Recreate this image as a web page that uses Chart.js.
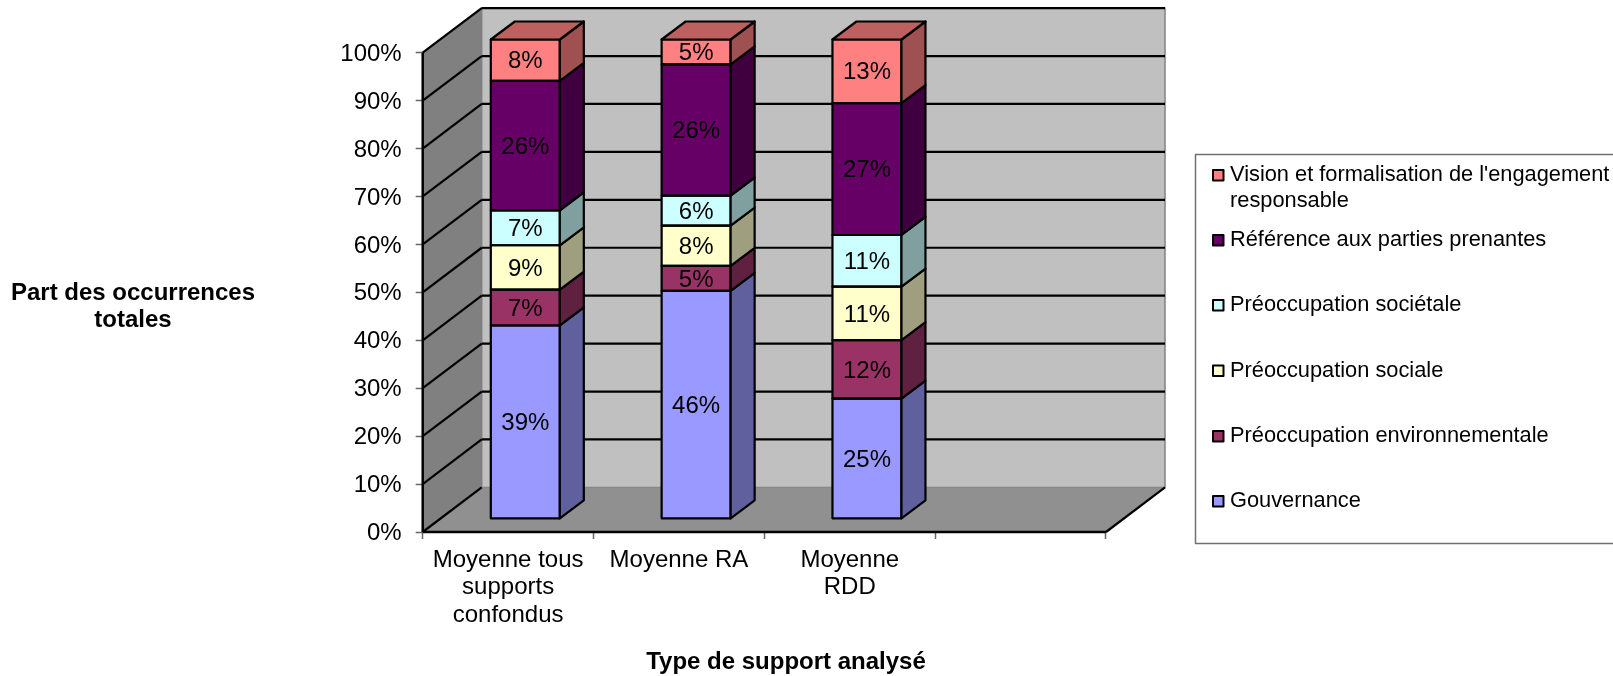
<!DOCTYPE html>
<html lang="fr">
<head>
    <meta charset="UTF-8">
    <title>Type de support analysé</title>
    <script src="https://cdn.jsdelivr.net/npm/chart.js@4/dist/chart.umd.min.js"></script>
    <style>
        html, body { margin: 0; padding: 0; background: #fff; }
        canvas { display: block; }
    </style>
</head>
<body>
<canvas id="myChart" width="1613" height="676"></canvas>
<script>
    // valeurs brutes en %, le total n'atteint pas 100 d'ou la normalisation plus bas
    var categories = [['Moyenne tous', 'supports', 'confondus'], ['Moyenne RA'], ['Moyenne', 'RDD'], ''];
    var gouvernance = [38.8, 45.7, 24.9, null];
    var environnement = [7.2, 5.0, 12.1, null];
    var sociale = [8.9, 8.1, 11.1, null];
    var societale = [7.0, 6.0, 10.7, null];
    var parties = [26.0, 26.3, 27.3, null];
    var vision = [8.3, 5.0, 13.2, null];

    var seriesNames = ['Gouvernance', 'Préoccupation environnementale', 'Préoccupation sociale', 'Préoccupation sociétale', 'Référence aux parties prenantes', "Vision et formalisation de l'engagement responsable"];
    var seriesValues = [gouvernance, environnement, sociale, societale, parties, vision];
    var seriesColors = ['#9999FF', '#993366', '#FFFFCC', '#CCFFFF', '#660066', '#FF8080'];

    // legende : du haut vers le bas, avec les lignes de texte
    var legendRows = [
        {series: 5, lines: ["Vision et formalisation de l'engagement", 'responsable'], y: 175},
        {series: 4, lines: ['Référence aux parties prenantes'], y: 240},
        {series: 3, lines: ['Préoccupation sociétale'], y: 305},
        {series: 2, lines: ['Préoccupation sociale'], y: 370.5},
        {series: 1, lines: ['Préoccupation environnementale'], y: 436},
        {series: 0, lines: ['Gouvernance'], y: 501}
    ];

    var wallDepth = {x: 59, y: -44.6};   // profondeur du cadre 3D
    var barShift = {x: 17.2, y: -13.2};  // decalage de la face avant des barres
    var barDepth = {x: 24, y: -18};      // profondeur des barres
    var fontName = '"Liberation Sans", Arial, sans-serif';

    function shade(hex, f) {
        var n = parseInt(hex.slice(1), 16);
        return 'rgb(' + Math.round((n >> 16) * f) + ',' + Math.round(((n >> 8) & 255) * f) + ',' + Math.round((n & 255) * f) + ')';
    }

    function poly(ctx, pts, fill, stroke, width) {
        ctx.beginPath();
        pts.forEach(function(p, i) {
            if (i === 0) ctx.moveTo(p[0], p[1]); else ctx.lineTo(p[0], p[1]);
        });
        ctx.closePath();
        if (fill) { ctx.fillStyle = fill; ctx.fill(); }
        if (stroke) { ctx.strokeStyle = stroke; ctx.lineWidth = width; ctx.lineJoin = 'round'; ctx.stroke(); }
    }

    function line(ctx, x1, y1, x2, y2, color, width) {
        ctx.beginPath();
        ctx.moveTo(x1, y1);
        ctx.lineTo(x2, y2);
        ctx.strokeStyle = color;
        ctx.lineWidth = width;
        ctx.stroke();
    }

    var frame3d = {
        id: 'frame3d',
        beforeDatasetsDraw: function(chart) {
            var ctx = chart.ctx, a = chart.chartArea, yScale = chart.scales.y;
            var dx = wallDepth.x, dy = wallDepth.y;
            // murs et sol
            poly(ctx, [[a.left + dx, a.top + dy], [a.right + dx, a.top + dy], [a.right + dx, a.bottom + dy], [a.left + dx, a.bottom + dy]], '#C0C0C0', '#808080', 1.5);
            poly(ctx, [[a.left, a.top], [a.left + dx, a.top + dy], [a.left + dx, a.bottom + dy], [a.left, a.bottom]], '#808080');
            poly(ctx, [[a.left, a.bottom], [a.right, a.bottom], [a.right + dx, a.bottom + dy], [a.left + dx, a.bottom + dy]], '#909090');
            // quadrillage
            yScale.ticks.forEach(function(t) {
                var y = yScale.getPixelForValue(t.value);
                line(ctx, a.left, y, a.left + dx, y + dy, '#000', 2.2);
                if (t.value > 0) line(ctx, a.left + dx, y + dy, a.right + dx, y + dy, '#000', 2.2);
            });
            line(ctx, a.right, a.bottom, a.right + dx, a.bottom + dy, '#000', 2.2);
            line(ctx, a.left, a.bottom, a.right, a.bottom, '#000', 2.5);
            line(ctx, a.left, a.top, a.left, a.bottom, '#000', 2.5);
            // les barres sont dessinees en retrait du bord avant
            ctx.save();
            ctx.translate(barShift.x, barShift.y);
        },
        afterDatasetsDraw: function(chart) {
            var ctx = chart.ctx;
            chart.data.datasets.forEach(function(ds, di) {
                chart.getDatasetMeta(di).data.forEach(function(bar, i) {
                    if (ds.data[i] === null) return;
                    var p = bar.getProps(['x', 'y', 'base', 'width'], true);
                    var l = p.x - p.width / 2, r = p.x + p.width / 2;
                    var dx = barDepth.x, dy = barDepth.y;
                    poly(ctx, [[l, p.y], [r, p.y], [r, p.base], [l, p.base]], null, '#000', 2.2);
                    poly(ctx, [[r, p.y], [r + dx, p.y + dy], [r + dx, p.base + dy], [r, p.base]], shade(seriesColors[di], 0.625), '#000', 2.2);
                    if (di === seriesValues.length - 1) {
                        poly(ctx, [[l, p.y], [l + dx, p.y + dy], [r + dx, p.y + dy], [r, p.y]], shade(seriesColors[di], 0.75), '#000', 2.2);
                    }
                });
            });
            // etiquettes de valeur
            ctx.fillStyle = '#000';
            ctx.font = '24px ' + fontName;
            ctx.textAlign = 'center';
            ctx.textBaseline = 'middle';
            chart.data.datasets.forEach(function(ds, di) {
                chart.getDatasetMeta(di).data.forEach(function(bar, i) {
                    if (ds.data[i] === null) return;
                    var p = bar.getProps(['x', 'y', 'base'], true);
                    ctx.fillText(Math.round(seriesValues[di][i]) + '%', p.x, (p.y + p.base) / 2 + 1.5);
                });
            });
            ctx.restore();
        },
        afterDraw: function(chart) {
            var ctx = chart.ctx;
            // titres d'axes
            ctx.fillStyle = '#000';
            ctx.font = 'bold 24px ' + fontName;
            ctx.textAlign = 'center';
            ctx.textBaseline = 'middle';
            ctx.fillText('Part des occurrences', 133, 293);
            ctx.fillText('totales', 133, 320);
            ctx.fillText('Type de support analysé', 786, 662);
            // legende
            ctx.strokeStyle = '#707070';
            ctx.lineWidth = 1.5;
            ctx.beginPath();
            ctx.moveTo(1640, 154.5);
            ctx.lineTo(1195.5, 154.5);
            ctx.lineTo(1195.5, 543.5);
            ctx.lineTo(1640, 543.5);
            ctx.stroke();
            ctx.font = '21.8px ' + fontName;
            ctx.textAlign = 'left';
            legendRows.forEach(function(row) {
                ctx.fillStyle = seriesColors[row.series];
                ctx.fillRect(1213, row.y - 5, 10.5, 10.5);
                ctx.strokeStyle = '#000';
                ctx.lineWidth = 2;
                ctx.strokeRect(1213, row.y - 5, 10.5, 10.5);
                ctx.fillStyle = '#000';
                row.lines.forEach(function(txt, k) {
                    ctx.fillText(txt, 1230, row.y + k * 25.5);
                });
            });
        }
    };

    var myChart = new Chart(document.getElementById('myChart'), {
        type: 'bar',
        data: {
            labels: categories,
            datasets: seriesNames.map(function(name, s) {
                return {
                    label: name,
                    data: seriesValues[s].map(function(v, i) {
                        if (v === null) return null;
                        var total = seriesValues.reduce(function(sum, vals) { return sum + vals[i]; }, 0);
                        return v / total * 100;
                    }),
                    backgroundColor: seriesColors[s],
                    borderWidth: 0,
                    categoryPercentage: 1,
                    barPercentage: 0.404
                };
            })
        },
        options: {
            responsive: false,
            animation: false,
            layout: {padding: {left: 342, right: 507, top: 52.7, bottom: 44}},
            plugins: {
                legend: false,
                tooltip: {enabled: false}
            },
            scales: {
                x: {
                    stacked: true,
                    afterFit: function(s) { s.height = 100; },
                    border: {display: false},
                    grid: {drawOnChartArea: false, offset: true, tickLength: 7, tickColor: '#666', tickWidth: 1.5},
                    ticks: {
                        autoSkip: false, maxRotation: 0, color: '#000', padding: 7,
                        font: {family: fontName, size: 24, lineHeight: 1.16}
                    }
                },
                y: {
                    stacked: true,
                    min: 0,
                    max: 100,
                    afterFit: function(s) { s.width = 80.7; },
                    border: {display: false},
                    grid: {drawOnChartArea: false, tickLength: 7, tickColor: '#666', tickWidth: 1.5},
                    ticks: {
                        stepSize: 10, color: '#000', padding: 14, labelOffset: 1.5,
                        font: {family: fontName, size: 24},
                        callback: function(v) { return v + '%'; }
                    }
                }
            }
        },
        plugins: [frame3d]
    });
</script>
</body>
</html>
